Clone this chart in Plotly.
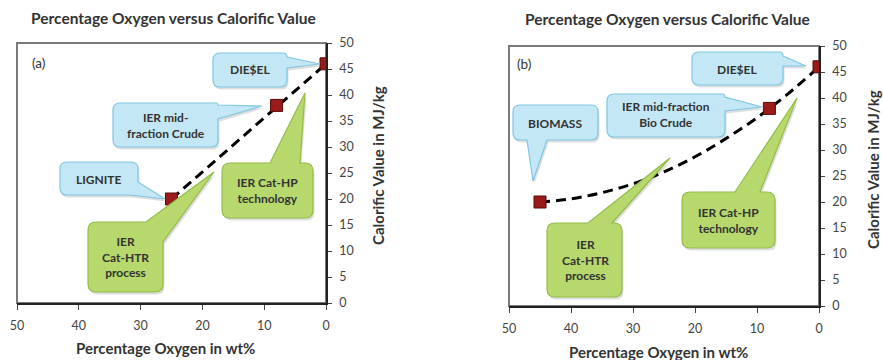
import plotly.graph_objects as go

W, H = 883, 360

# ---------------- data ----------------
oxygen_a = [25, 8, 0]
cv_a = [20, 38, 46]
trend_a_x = [25, 0]
trend_a_y = [20, 46]

oxygen_b = [45, 8, 0]
cv_b = [20, 38, 46]
trend_b_x = [45, 40, 35, 30, 25, 20, 15, 10, 5, 0]
trend_b_y = [20, 20.6, 21.8, 23.5, 25.8, 28.7, 32.2, 36.2, 40.8, 46]

x_ticks = [50, 40, 30, 20, 10, 0]
y_ticks = [0, 5, 10, 15, 20, 25, 30, 35, 40, 45, 50]

TITLE = "Percentage Oxygen versus Calorific Value"
XTITLE = "Percentage Oxygen in wt%"
YTITLE = "Calorific Value in MJ/kg"

FONT = "Lato"
MARK = "#9b1a1a"
TXT = "#333333"

def px(x):
    return x / W

def py(y):
    return 1 - y / H

fig = go.Figure()

for xs, ys, tx, ty, xa, ya in [
    (oxygen_a, cv_a, trend_a_x, trend_a_y, "x", "y"),
    (oxygen_b, cv_b, trend_b_x, trend_b_y, "x2", "y2"),
]:
    fig.add_trace(go.Scatter(
        x=tx, y=ty, mode="lines", line=dict(color="black", width=3, dash="10px,6px", shape="spline"),
        xaxis=xa, yaxis=ya, showlegend=False, hoverinfo="skip"))
    fig.add_trace(go.Scatter(
        x=xs, y=ys, mode="markers",
        marker=dict(symbol="square", size=12, color=MARK, line=dict(color="#5a0a0a", width=1)),
        xaxis=xa, yaxis=ya, showlegend=False))

axis_common = dict(
    range=[50, 0], tickvals=x_ticks, ticks="outside", ticklen=5, tickwidth=1.2,
    showline=True, linecolor="#222", linewidth=1.5, showgrid=False, zeroline=False,
    tickfont=dict(family=FONT, size=12.5, color="#444"), automargin=False, ticklabelstandoff=5,
)
yaxis_common = dict(
    range=[0, 50], tickvals=y_ticks, side="right", ticks="outside", ticklen=4, tickwidth=1.2,
    showline=True, linecolor="#222", linewidth=1.5, showgrid=False, zeroline=False,
    tickfont=dict(family=FONT, size=12.5, color="#444"), automargin=False, ticklabelstandoff=5,
)

fig.update_layout(
    width=W, height=H, margin=dict(l=0, r=0, t=0, b=0),
    paper_bgcolor="white", plot_bgcolor="white",
    xaxis=dict(domain=[px(17), px(326)], anchor="y", **axis_common),
    yaxis=dict(domain=[py(303), py(43)], anchor="x", **yaxis_common),
    xaxis2=dict(domain=[px(509), px(819)], anchor="y2", **axis_common),
    yaxis2=dict(domain=[py(306), py(46)], anchor="x2", **yaxis_common),
)

shapes = []
# plot frames
for xr, yr in [("x domain", "y domain"), ("x2 domain", "y2 domain")]:
    shapes.append(dict(type="rect", xref=xr, yref=yr, x0=0, x1=1, y0=0, y1=1,
                       line=dict(color="#7a7a7a", width=2), layer="below"))


def rpath(verts, dx=0, dy=0):
    import math
    n = len(verts)
    cmds = []
    for i, (x, y, r) in enumerate(verts):
        x += dx
        y += dy
        if r > 0:
            xp, yp, _ = verts[i - 1]
            xn, yn, _ = verts[(i + 1) % n]
            xp += dx; yp += dy; xn += dx; yn += dy
            d1 = math.hypot(xp - x, yp - y)
            d2 = math.hypot(xn - x, yn - y)
            a = (x + r * (xp - x) / d1, y + r * (yp - y) / d1)
            b = (x + r * (xn - x) / d2, y + r * (yn - y) / d2)
            cmds.append(("L" if cmds else "M") + f"{px(a[0]):.5f},{py(a[1]):.5f}")
            cmds.append(f"Q{px(x):.5f},{py(y):.5f} {px(b[0]):.5f},{py(b[1]):.5f}")
        else:
            cmds.append(("L" if cmds else "M") + f"{px(x):.5f},{py(y):.5f}")
    return " ".join(cmds) + " Z"


BLUE_FILL, BLUE_LINE = "#c4e7f5", "#7fc7e2"
GREEN_FILL, GREEN_LINE = "#b6d86c", "#94bc46"

callouts = [
    # left panel
    ([(213, 53, 7), (287, 53, 4), (287, 57, 0), (320, 64, 0), (287, 68, 0), (287, 87, 7), (213, 87, 7)],
     BLUE_FILL, BLUE_LINE, "DIE$EL", 250, 70),
    ([(113, 103, 7), (218, 103, 2), (218, 105, 0), (262, 106, 0), (218, 119, 0), (218, 147, 7), (113, 147, 7)],
     BLUE_FILL, BLUE_LINE, "IER mid-<br>fraction Crude", 166, 125),
    ([(60, 162, 7), (138, 162, 7), (138, 182, 0), (165, 199, 0), (130, 195, 0), (60, 195, 7)],
     BLUE_FILL, BLUE_LINE, "LIGNITE", 99, 179),
    ([(222, 163, 8), (270, 163, 0), (305, 93, 0), (300, 163, 0), (313, 163, 8), (313, 218, 8), (222, 218, 8)],
     GREEN_FILL, GREEN_LINE, "IER Cat-HP<br>technology", 267, 190),
    ([(88, 222, 8), (146, 222, 0), (214, 172, 0), (163, 242, 0), (163, 292, 8), (88, 292, 8)],
     GREEN_FILL, GREEN_LINE, "IER<br>Cat-HTR<br>process", 125, 257),
    # right panel
    ([(692, 52, 7), (783, 52, 4), (783, 56, 0), (806, 66, 0), (783, 66, 0), (783, 85, 7), (692, 85, 7)],
     BLUE_FILL, BLUE_LINE, "DIE$EL", 737, 69),
    ([(607, 94, 7), (725, 94, 3), (725, 97, 0), (762, 107, 0), (725, 111, 0), (725, 137, 7), (607, 137, 7)],
     BLUE_FILL, BLUE_LINE, "IER mid-fraction<br>Bio Crude", 666, 115),
    ([(513, 105, 7), (598, 105, 7), (598, 140, 7), (547, 140, 0), (533, 181, 0), (527, 140, 0), (513, 140, 7)],
     BLUE_FILL, BLUE_LINE, "BIOMASS", 555, 123),
    ([(547, 223, 8), (588, 223, 0), (670, 158, 0), (612, 223, 0), (622, 223, 8), (622, 297, 8), (547, 297, 8)],
     GREEN_FILL, GREEN_LINE, "IER<br>Cat-HTR<br>process", 585, 260),
    ([(682, 192, 8), (735, 192, 0), (797, 98, 0), (760, 192, 0), (775, 192, 8), (775, 248, 8), (682, 248, 8)],
     GREEN_FILL, GREEN_LINE, "IER Cat-HP<br>technology", 728, 220),
]


def ann(x, y, text, size, angle=0):
    return dict(x=px(x), y=py(y), xref="paper", yref="paper", text=text, showarrow=False,
                textangle=angle, xanchor="center", yanchor="middle", align="center",
                font=dict(family=FONT, size=size, color=TXT))


annotations = []
for verts, fill, line, text, tx, ty in callouts:
    shapes.append(dict(type="path", xref="paper", yref="paper", path=rpath(verts, 1.5, 2.5),
                       fillcolor="rgba(0,0,0,0.13)", line=dict(width=0), layer="above"))
    shapes.append(dict(type="path", xref="paper", yref="paper", path=rpath(verts),
                       fillcolor=fill, line=dict(color=line, width=1.2), layer="above"))
    annotations.append(ann(tx, ty, f"<b>{text}</b>", 12))

# panel labels
annotations.append(ann(38, 63, "(a)", 13.5))
annotations.append(ann(524, 64, "(b)", 13.5))

# titles
for cx, ty, xtx, xty, ytx, yty in [(173, 18, 165, 348, 378, 166), (667, 19, 658, 352, 873, 170)]:
    annotations.append(ann(cx, ty, f"<b>{TITLE}</b>", 15.5))
    annotations.append(ann(xtx, xty, f"<b>{XTITLE}</b>", 15))
    annotations.append(ann(ytx, yty, f"<b>{YTITLE}</b>", 15, -90))

fig.update_layout(shapes=shapes, annotations=annotations)
fig.write_html("out.html", config={"displayModeBar": False},
               post_script="document.body.style.margin='0';document.body.style.padding='0';")
